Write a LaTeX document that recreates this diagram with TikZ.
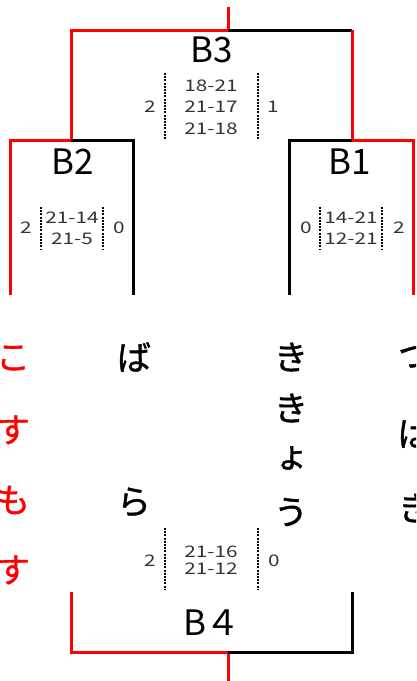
\documentclass[tikz,border=0pt]{standalone}
\usepackage{fontspec}
\setmainfont{Noto Sans CJK JP}
\newfontfamily\scorefont[FakeStretch=1.3]{Noto Sans CJK JP}
\newfontfamily\kanafont[FakeBold=1.2]{Noto Sans CJK JP}
\definecolor{brred}{RGB}{255,0,0}
\definecolor{brgray}{RGB}{51,51,51}
\usetikzlibrary{positioning}

\begin{document}
\begin{tikzpicture}[
  x=1pt,y=-1pt,
  every node/.style={inner sep=0pt},
  winline/.style={draw=brred,line width=3pt},
  loseline/.style={draw=black,line width=3pt},
  sepline/.style={draw=black,line width=1.2pt,dash pattern=on 2pt off 1.2pt},
  blabel/.style={font=\fontsize{35}{35}\selectfont},
  scores/.style={font=\scorefont\fontsize{16}{21.5}\selectfont,align=center,text=brgray},
  games/.style={font=\scorefont\fontsize{16}{16}\selectfont,text=brgray},
  kana/.style={font=\kanafont\fontsize{34}{34}\selectfont},
]
  \useasboundingbox (0,0) rectangle (416,681);
  \clip (0,0) rectangle (416,681);

  % bracket corners
  \coordinate (b3top) at (228,7);   \coordinate (b3mid) at (228,30);
  \coordinate (b3l) at (71,30);     \coordinate (b3r) at (352,30);
  \coordinate (b2mid) at (71,140);  \coordinate (b1mid) at (352,140);
  \coordinate (b2l) at (10,140);    \coordinate (b2lb) at (10,295);
  \coordinate (b2r) at (133,140);   \coordinate (b2rb) at (133,295);
  \coordinate (b1l) at (289,140);   \coordinate (b1lb) at (289,295);
  \coordinate (b1r) at (413,140);   \coordinate (b1rb) at (413,295);
  \coordinate (b4lt) at (71,592);   \coordinate (b4l) at (71,652);
  \coordinate (b4rt) at (352,592);  \coordinate (b4r) at (352,652);
  \coordinate (b4mid) at (228,652); \coordinate (b4bot) at (228,681);

  % Final B3
  \draw[winline] (b3top) -- (b3mid) -- (b3l) -- (b2mid);
  \draw[loseline] (b3mid) -- (b3r);
  \draw[winline] (b3r) -- (b1mid);
  % Semi B2
  \draw[winline] (b2mid) -- (b2l) -- (b2lb);
  \draw[loseline] (b2mid) -- (b2r) -- (b2rb);
  % Semi B1
  \draw[loseline] (b1mid) -- (b1l) -- (b1lb);
  \draw[winline] (b1mid) -- (b1r) -- (b1rb);
  % Third place B4
  \draw[winline] (b4lt) -- (b4l) -- (b4mid) -- (b4bot);
  \draw[loseline] (b4mid) -- (b4r) -- (b4rt);

  % match labels
  \node[blabel] (lb3) at (212,50) {B3};
  \node[blabel] (lb2) at (73,162) {B2};
  \node[blabel] (lb1) at (350,162) {B1};
  \node[blabel] (lb4) at (212,623) {B４};

  % B3 scores
  \node[scores] (s3) at (211,107) {18-21\\21-17\\21-18};
  \node[games] (g3l) at (150,107) {2};
  \node[games] (g3r) at (273,107) {1};
  \coordinate (d3la) at (165,73);  \coordinate (d3lb) at (165,139);
  \coordinate (d3ra) at (258,73);  \coordinate (d3rb) at (258,139);
  \draw[sepline] (d3la) -- (d3lb);
  \draw[sepline] (d3ra) -- (d3rb);

  % B2 scores
  \node[scores,font=\scorefont\fontsize{16}{21}\selectfont] (s2) at (72,228) {21-14\\21-5};
  \node[games] (g2l) at (26,228) {2};
  \node[games] (g2r) at (119,228) {0};
  \coordinate (d2la) at (41,207);  \coordinate (d2lb) at (41,250);
  \coordinate (d2ra) at (103,207); \coordinate (d2rb) at (103,250);
  \draw[sepline] (d2la) -- (d2lb);
  \draw[sepline] (d2ra) -- (d2rb);

  % B1 scores
  \node[scores,font=\scorefont\fontsize{16}{21}\selectfont] (s1) at (351,228) {14-21\\12-21};
  \node[games] (g1l) at (306,228) {0};
  \node[games] (g1r) at (399,228) {2};
  \coordinate (d1la) at (320,207); \coordinate (d1lb) at (320,250);
  \coordinate (d1ra) at (382,207); \coordinate (d1rb) at (382,250);
  \draw[sepline] (d1la) -- (d1lb);
  \draw[sepline] (d1ra) -- (d1rb);

  % B4 scores
  \node[scores,font=\scorefont\fontsize{16}{17}\selectfont] (s4) at (211,560) {21-16\\21-12};
  \node[games] (g4l) at (150,561) {2};
  \node[games] (g4r) at (274,561) {0};
  \coordinate (d4la) at (165,528); \coordinate (d4lb) at (165,590);
  \coordinate (d4ra) at (258,528); \coordinate (d4rb) at (258,590);
  \draw[sepline] (d4la) -- (d4lb);
  \draw[sepline] (d4ra) -- (d4rb);

  % team names, one character per node
  \node[kana,text=brred] (ko) at (13,358) {こ};
  \node[kana,text=brred] (su) at (13,430) {す};
  \node[kana,text=brred] (mo) at (13,500) {も};
  \node[kana,text=brred] (su2) at (13,570) {す};
  \node[kana] (ba) at (134,357) {ば};
  \node[kana] (ra) at (134,502) {ら};
  \node[kana] (ki) at (291,357) {き};
  \node[kana] (ki2) at (291,408) {き};
  \node[kana] (yo) at (292,458) {ょ};
  \node[kana] (u) at (291,512) {う};
  \node[kana] (tsu) at (415,357) {つ};
  \node[kana] (ba2) at (415,433) {ば};
  \node[kana] (ki3) at (415,508) {き};
\end{tikzpicture}
\end{document}
